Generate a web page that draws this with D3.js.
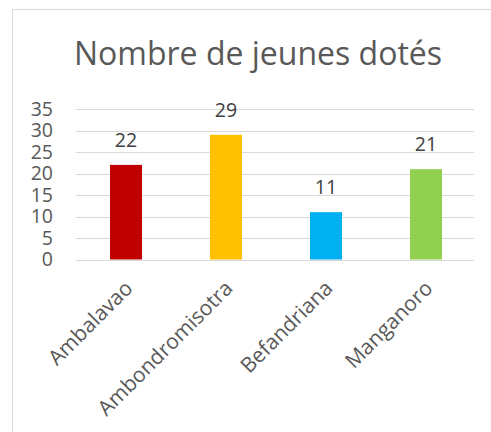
<!DOCTYPE html>
<html><head><meta charset="utf-8">
<script src="https://cdn.jsdelivr.net/npm/d3@7"></script>
<style>body{margin:0;background:#fff}svg{display:block}</style>
</head><body>
<script>
const categories = ["Ambalavao", "Ambondromisotra", "Befandriana", "Manganoro"];
const values = [22, 29, 11, 21];
const colors = ["#C00000", "#FFC000", "#00B0F0", "#92D050"];
const yTicks = [0, 5, 10, 15, 20, 25, 30, 35];
const title = "Nombre de jeunes dotés";

const W = 491, H = 432;
const font = "'Open Sans', sans-serif";
const svg = d3.select("body").append("svg").attr("width", W).attr("height", H);

svg.append("rect").attr("x", 12.5).attr("y", 9.5).attr("width", 490).attr("height", 430)
  .attr("fill", "#fff").attr("stroke", "#d9d9d9").attr("stroke-width", 1);

svg.append("text").attr("x", 258).attr("y", 65).attr("text-anchor", "middle")
  .attr("font-family", font).attr("font-size", 32).attr("fill", "#595959").text(title);

const x = d3.scaleBand().domain(categories).range([76, 476]).paddingInner(0.68).paddingOuter(0.34);
const y = d3.scaleLinear().domain([0, 35]).range([259.5, 109]);

const grid = svg.append("g");
grid.selectAll("line").data(yTicks).join("line")
  .attr("x1", 76).attr("x2", 474)
  .attr("y1", d => Math.round(y(d)) + 0.5).attr("y2", d => Math.round(y(d)) + 0.5)
  .attr("stroke", "#d9d9d9").attr("stroke-width", 1);

const yAxis = d3.axisLeft(y).tickValues(yTicks).tickSize(0).tickPadding(0);
const ya = svg.append("g").attr("transform", "translate(53,0)").call(yAxis);
ya.select(".domain").remove();
ya.selectAll("text").attr("font-family", font).attr("font-size", 19.5).attr("fill", "#595959");

svg.append("g").selectAll("rect").data(values).join("rect")
  .attr("x", (d, i) => x(categories[i])).attr("width", x.bandwidth())
  .attr("y", d => y(d)).attr("height", d => y(0) - y(d))
  .attr("fill", (d, i) => colors[i]);

svg.append("g").selectAll("text").data(values).join("text")
  .attr("x", (d, i) => x(categories[i]) + x.bandwidth() / 2)
  .attr("y", d => y(d) - 18)
  .attr("text-anchor", "middle").attr("font-family", font).attr("font-size", 19.5)
  .attr("fill", "#404040").text(d => d);

const xAxis = d3.axisBottom(x).tickSize(0).tickPadding(0);
const xa = svg.append("g").attr("transform", "translate(0,259.5)").call(xAxis);
xa.select(".domain").remove();
xa.selectAll("text").attr("font-family", font).attr("font-size", 21).attr("fill", "#595959")
  .attr("text-anchor", "end").attr("dy", null).attr("y", 0)
  .attr("transform", "translate(8,30) rotate(-45)");
</script>
</body></html>
